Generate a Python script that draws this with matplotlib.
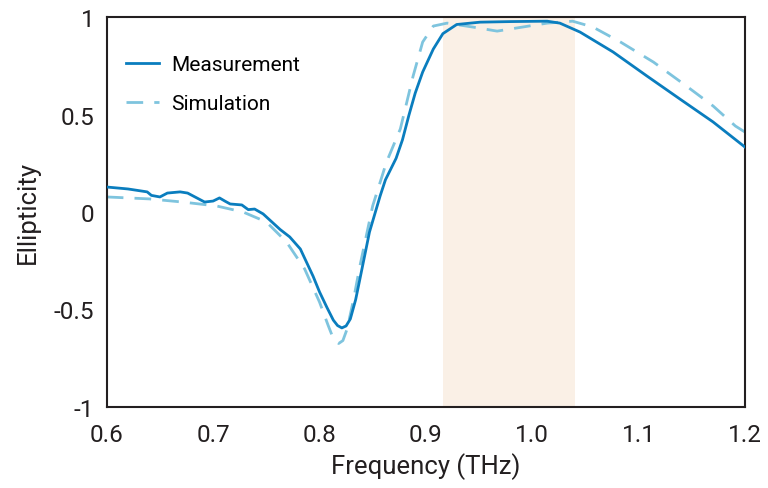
import numpy as np
import matplotlib
matplotlib.use('Agg')
import matplotlib.pyplot as plt

plt.rcParams['font.family'] = ['Roboto', 'DejaVu Sans']

# measured ellipticity
meas_f = [0.600, 0.620, 0.638, 0.642, 0.650, 0.657, 0.669, 0.676, 0.692, 0.700,
          0.706, 0.711, 0.716, 0.727, 0.733, 0.739, 0.747, 0.763, 0.772, 0.782,
          0.794, 0.800, 0.807, 0.813, 0.817, 0.821, 0.825, 0.829, 0.834, 0.838,
          0.847, 0.857, 0.862, 0.867, 0.872, 0.878, 0.884, 0.890, 0.897, 0.907,
          0.916, 0.929, 0.951, 0.980, 1.014, 1.026, 1.045, 1.076, 1.108, 1.139,
          1.170, 1.200]
meas_e = [0.128, 0.118, 0.103, 0.085, 0.077, 0.097, 0.103, 0.097, 0.051, 0.056,
          0.072, 0.056, 0.041, 0.036, 0.012, 0.015, -0.010, -0.090, -0.128, -0.190,
          -0.330, -0.410, -0.490, -0.555, -0.583, -0.595, -0.585, -0.549, -0.450, -0.344,
          -0.103, 0.082, 0.165, 0.220, 0.275, 0.370, 0.495, 0.610, 0.718, 0.836,
          0.915, 0.962, 0.974, 0.977, 0.979, 0.969, 0.923, 0.821, 0.697, 0.579,
          0.462, 0.333]

# simulated ellipticity
sim_f = [0.600, 0.640, 0.671, 0.703, 0.728, 0.750, 0.769, 0.786, 0.800, 0.808,
         0.813, 0.818, 0.822, 0.826, 0.832, 0.838, 0.850, 0.863, 0.876, 0.888,
         0.897, 0.907, 0.920, 0.944, 0.967, 0.991, 1.014, 1.038, 1.057, 1.083,
         1.114, 1.145, 1.170, 1.191, 1.200]
sim_e = [0.077, 0.067, 0.051, 0.031, 0.000, -0.051, -0.154, -0.292, -0.462, -0.580,
         -0.650, -0.675, -0.660, -0.600, -0.450, -0.277, 0.031, 0.256, 0.426, 0.697,
         0.872, 0.954, 0.969, 0.949, 0.928, 0.949, 0.969, 0.979, 0.949, 0.872,
         0.769, 0.646, 0.544, 0.441, 0.410]

band = (0.916, 1.040)
xticks = [0.6, 0.7, 0.8, 0.9, 1.0, 1.1, 1.2]
xtick_labels = ['0.6', '0.7', '0.8', '0.9', '1.0', '1.1', '1.2']
yticks = [-1, -0.5, 0, 0.5, 1]
ytick_labels = ['-1', '-0.5', '0', '0.5', '1']

fig = plt.figure(figsize=(7.68, 4.89), dpi=100)
ax = fig.add_axes([0.139, 0.166, 0.831, 0.797])

ax.axvspan(band[0], band[1], color='#FAF0E6', lw=0, zorder=0)
ax.plot(meas_f, meas_e, color='#0A7DBE', lw=2.0, label='Measurement', zorder=3)
ax.plot(sim_f, sim_e, color='#7EC4DE', lw=2.0, ls=(0, (6, 4)), label='Simulation', zorder=2)

ax.set_xlim(0.6, 1.2)
ax.set_ylim(-1, 1)
ax.set_xticks(xticks)
ax.set_xticklabels(xtick_labels)
ax.set_yticks(yticks)
ax.set_yticklabels(ytick_labels)
ax.tick_params(axis='both', length=0, labelsize=17.5, colors='#231F20')
ax.tick_params(axis='x', pad=12)
ax.tick_params(axis='y', pad=9)
for s in ax.spines.values():
    s.set_color('#231F20')
    s.set_linewidth(1.5)

ax.set_xlabel('Frequency (THz)', fontsize=18.5, color='#231F20', labelpad=4)
ax.set_ylabel('Ellipticity', fontsize=18.5, color='#231F20', labelpad=10)

ax.legend(loc='upper left', frameon=False, fontsize=15, handlelength=1.6,
          handletextpad=0.6, labelspacing=0.95, bbox_to_anchor=(0.0, 0.95))

fig.savefig('out.png', dpi=100)
plt.close(fig)
